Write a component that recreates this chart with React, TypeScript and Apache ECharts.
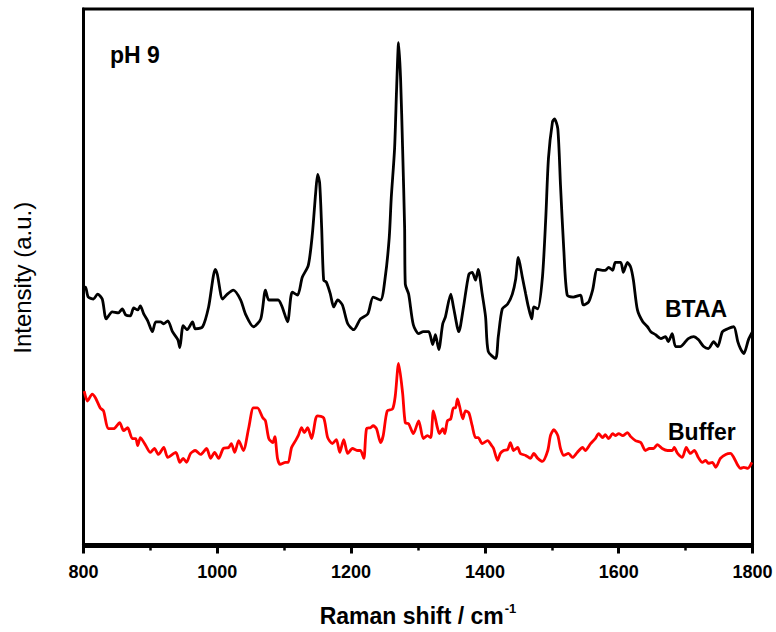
import React, { useEffect, useRef } from "react";
import * as echarts from "echarts";

// Raman shift (cm^-1) and intensity (a.u.)
const btaaShift = [800,803,807,815,821,828,834,843,852,858,863,870,875,881,885,890,896,903,908,915,920,926,933,941,944,949,955,963,967,978,987,997,1000,1008,1015,1024,1035,1042,1054,1065,1072,1077,1084,1091,1097,1105,1112,1120,1127,1136,1142,1147,1150,1153,1156,1159,1163,1169,1174,1180,1187,1195,1204,1214,1225,1233,1244,1251,1257,1260,1265,1268,1271,1274,1277,1280,1281,1286,1293,1301,1308,1316,1322,1326,1331,1337,1341,1349,1353,1361,1368,1376,1381,1386,1390,1396,1401,1405,1416,1420,1426,1434,1441,1446,1450,1456,1461,1465,1470,1473,1479,1486,1491,1495,1501,1504,1509,1513,1518,1523,1532,1543,1547,1555,1561,1568,1576,1580,1585,1591,1595,1603,1607,1613,1618,1622,1628,1636,1643,1648,1655,1663,1670,1674,1680,1685,1692,1700,1704,1712,1719,1727,1734,1742,1748,1755,1763,1772,1778,1782,1787,1794,1800];
const btaaIntensity = [258,260,250,248,253,248,228,235,234,238,232,231,239,237,241,233,226,215,225,225,223,226,215,207,199,221,217,225,218,220,240,278,273,248,253,257,247,233,220,228,257,247,247,247,240,225,255,252,270,282,313,355,374,365,320,267,265,253,240,247,242,223,217,228,233,250,247,270,310,350,400,460,507,470,400,320,263,253,222,213,215,215,202,212,197,223,230,253,240,215,240,273,275,267,278,253,230,195,188,210,238,243,253,268,290,270,253,240,228,240,238,270,330,390,427,430,420,363,297,252,250,252,242,245,257,278,277,277,280,277,285,285,275,285,280,267,237,225,220,215,212,208,210,205,213,200,200,205,208,210,207,200,198,205,200,215,218,220,205,198,193,207,215];

const bufferShift = [801,806,813,818,825,830,837,845,854,860,866,873,878,881,885,893,900,906,912,920,926,938,944,949,954,960,967,975,984,990,996,1002,1009,1017,1021,1026,1032,1039,1047,1054,1060,1068,1072,1077,1083,1086,1090,1094,1102,1106,1111,1117,1121,1126,1130,1135,1141,1147,1150,1159,1165,1172,1178,1183,1189,1195,1202,1210,1214,1219,1223,1229,1233,1238,1244,1248,1254,1262,1266,1271,1277,1281,1286,1293,1301,1308,1314,1319,1323,1329,1332,1337,1340,1344,1349,1353,1356,1359,1362,1367,1371,1376,1381,1386,1390,1396,1404,1410,1413,1419,1423,1428,1434,1438,1443,1449,1453,1461,1468,1473,1479,1486,1494,1498,1503,1509,1513,1518,1525,1531,1538,1546,1550,1558,1565,1570,1576,1580,1585,1591,1595,1600,1606,1613,1618,1625,1633,1640,1646,1652,1658,1665,1673,1680,1683,1688,1695,1701,1707,1713,1719,1725,1730,1734,1740,1745,1752,1760,1767,1772,1778,1782,1787,1793,1799];
const bufferIntensity = [155,145,152,148,138,135,117,117,123,115,118,107,107,100,108,100,93,97,91,98,88,93,83,87,83,92,95,91,97,87,93,87,97,98,102,93,105,95,118,138,138,128,125,107,103,109,87,81,83,83,98,105,110,118,113,118,107,127,130,128,108,102,106,93,106,92,97,95,95,87,117,118,120,117,103,110,135,137,150,183,153,123,122,112,125,107,110,108,135,118,112,117,112,125,127,138,138,147,140,127,135,133,120,108,108,102,105,100,97,85,92,95,96,103,95,98,92,90,87,92,87,84,95,110,116,110,97,90,92,88,93,98,95,102,107,112,108,111,107,112,110,112,110,113,109,105,103,95,97,97,101,97,95,95,98,92,88,98,92,95,88,83,85,82,83,78,87,91,92,88,80,77,78,77,83];

const xMin = 800;
const xMax = 1800;
const xInterval = 200;
const seriesNames = ["BTAA", "Buffer"];
const panelLabel = "pH 9";

const FONT = '"Liberation Sans", Arial, Helvetica, sans-serif';

function zip(xs: number[], ys: number[]) {
  return xs.map((x, i) => [x, ys[i]]);
}

export default function App() {
  const ref = useRef<HTMLDivElement>(null);
  useEffect(() => {
    document.body.style.margin = "0";
    const chart = echarts.init(ref.current!, null, { renderer: "svg" });
    chart.setOption({
      animation: false,
      backgroundColor: "#ffffff",
      textStyle: { fontFamily: FONT },
      grid: {
        left: 83.5,
        right: 23.5,
        top: 9,
        bottom: 80,
        show: true,
        borderColor: "#000",
        borderWidth: 3,
        containLabel: false,
      },
      xAxis: {
        type: "value",
        min: xMin,
        max: xMax,
        interval: xInterval,
        name: "{a|Raman shift / cm}{s|-1}",
        nameLocation: "middle",
        nameGap: 55,
        nameTextStyle: {
          rich: {
            a: { fontSize: 23, fontWeight: "bold", color: "#000", fontFamily: FONT, lineHeight: 28 },
            s: { fontSize: 13, fontWeight: "bold", color: "#000", fontFamily: FONT, verticalAlign: "top", lineHeight: 28, padding: [0, 0, 12, 1] },
          },
        },
        axisLine: { show: true, lineStyle: { color: "#000", width: 3 } },
        axisTick: { show: true, inside: false, length: 9, lineStyle: { color: "#000", width: 3 } },
        minorTick: { show: true, splitNumber: 2, length: 6, lineStyle: { color: "#000", width: 2.5 } },
        splitLine: { show: false },
        minorSplitLine: { show: false },
        axisLabel: {
          fontSize: 18,
          fontWeight: "bold",
          color: "#000",
          margin: 16,
          fontFamily: FONT,
          formatter: (v: number) => String(v),
        },
      },
      yAxis: {
        type: "value",
        min: -2,
        max: 541,
        name: "Intensity (a.u.)",
        nameLocation: "middle",
        nameGap: 49,
        nameTextStyle: { fontSize: 24, color: "#000", fontFamily: FONT },
        axisLine: { show: true, lineStyle: { color: "#000", width: 3 } },
        axisTick: { show: false },
        axisLabel: { show: false },
        splitLine: { show: false },
      },
      series: [
        {
          name: seriesNames[0],
          type: "line",
          data: zip(btaaShift, btaaIntensity),
          showSymbol: false,
          symbol: "none",
          smooth: 0.25,
          lineStyle: { color: "#000", width: 2.8 },
          z: 3,
        },
        {
          name: seriesNames[1],
          type: "line",
          data: zip(bufferShift, bufferIntensity),
          showSymbol: false,
          symbol: "none",
          smooth: 0.25,
          lineStyle: { color: "#ff0000", width: 2.8 },
          z: 2,
        },
      ],
      graphic: [
        { type: "text", left: 110, top: 43, style: { text: panelLabel, font: `bold 23px ${FONT}`, fill: "#000" } },
        { type: "text", left: 665, top: 297, style: { text: seriesNames[0], font: `bold 23px ${FONT}`, fill: "#000" } },
        { type: "text", left: 668, top: 420, style: { text: seriesNames[1], font: `bold 23px ${FONT}`, fill: "#000" } },
      ],
    });
    return () => chart.dispose();
  }, []);
  return <div ref={ref} style={{ width: 776, height: 632, background: "#fff" }} />;
}
